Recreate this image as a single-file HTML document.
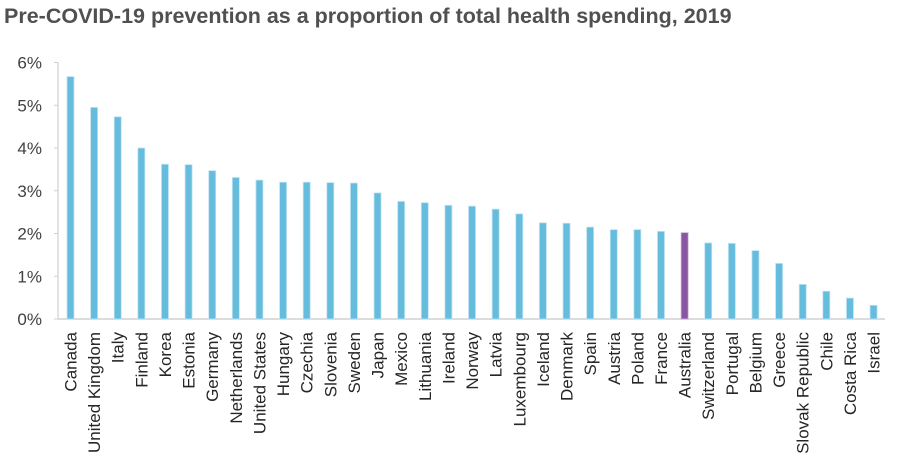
<!DOCTYPE html>
<html><head><meta charset="utf-8"><style>
body{margin:0;background:#fff;width:903px;height:471px;overflow:hidden;font-family:"Liberation Sans",sans-serif}
#title{position:absolute;left:4px;top:4px;font-weight:bold;font-size:21.5px;color:#505050;margin:0;white-space:nowrap}
</style></head><body>
<h1 id="title">Pre-COVID-19 prevention as a proportion of total health spending, 2019</h1>
<svg id="chart" width="903" height="471" style="position:absolute;left:0;top:0"></svg>
<script>
const categories=["Canada","United Kingdom","Italy","Finland","Korea","Estonia","Germany","Netherlands","United States","Hungary","Czechia","Slovenia","Sweden","Japan","Mexico","Lithuania","Ireland","Norway","Latvia","Luxembourg","Iceland","Denmark","Spain","Austria","Poland","France","Australia","Switzerland","Portugal","Belgium","Greece","Slovak Republic","Chile","Costa Rica","Israel"];
const values=[5.67,4.95,4.73,4.0,3.62,3.61,3.47,3.31,3.25,3.2,3.2,3.19,3.18,2.95,2.75,2.72,2.66,2.64,2.57,2.46,2.25,2.24,2.15,2.09,2.09,2.05,2.02,1.78,1.77,1.60,1.30,0.81,0.65,0.49,0.32];
const highlight=["Australia"];
const yTicks=[0,1,2,3,4,5,6];
const yTickLabels=["0%","1%","2%","3%","4%","5%","6%"];
const NS="http://www.w3.org/2000/svg";
const svg=document.getElementById('chart');
const y0=319,pxPer=42.75,xAxis=58,x0=70.5,step=23.62,bw=7;
const y=v=>y0-v*pxPer;
const x=i=>x0+i*step;
function mk(t,a){const e=document.createElementNS(NS,t);for(const k in a)e.setAttribute(k,a[k]);svg.appendChild(e);return e;}
const ya=mk('line',{x1:xAxis,y1:y(6),x2:xAxis,y2:y0,stroke:'#d0d0d0','stroke-width':1.2});


const xa=mk('line',{x1:xAxis,y1:y0,x2:885,y2:y0,stroke:'#d0d0d0','stroke-width':1.5});


yTicks.forEach((t,i)=>{
  const tk=mk('line',{x1:xAxis-4,y1:y(t),x2:xAxis,y2:y(t),stroke:'#d0d0d0'});
  
  
  const l=mk('text',{x:42,y:y(t)+6,'text-anchor':'end','font-size':'17','fill':'#404040','font-family':'Liberation Sans, sans-serif'});
  l.textContent=yTickLabels[i];
  
  
});
categories.forEach((c,i)=>{
  const v=values[i];
  const r=mk('rect',{x:x(i)-bw/2,y:y(v),width:bw,height:y0-y(v),fill:highlight.includes(c)?'#8a55a1':'#65bcdd',stroke:highlight.includes(c)?'#c9b1d6':'#bfe3f2','stroke-width':0.8});
  
  
  const t=mk('text',{transform:`translate(${x(i)+6},332) rotate(-90)`,'text-anchor':'end','font-size':'17','fill':'#262626','font-family':'Liberation Sans, sans-serif'});
  t.textContent=c;
  
  
});
</script>
</body></html>
